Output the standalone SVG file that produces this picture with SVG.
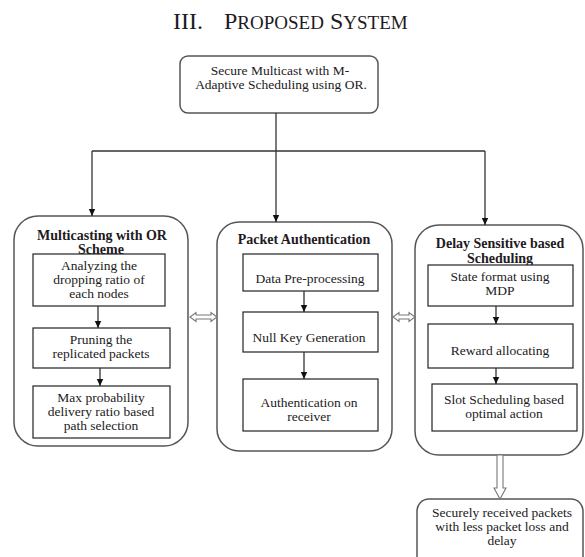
<svg xmlns="http://www.w3.org/2000/svg" width="585" height="557" viewBox="0 0 585 557" font-family="'Liberation Serif', 'Times New Roman', serif">
<defs>
<marker id="ah" markerWidth="8" markerHeight="8" refX="7" refY="4" orient="auto" markerUnits="userSpaceOnUse">
<path d="M0,0.8 L7,4 L0,7.2 z" fill="#111"/>
</marker>
<style>
text{font-family:'Liberation Serif','Times New Roman',serif;fill:#221a22;}
.t{font-size:13.5px;text-anchor:middle;}
.h{font-size:14px;font-weight:bold;text-anchor:middle;}
.cont{fill:none;stroke:#555;stroke-width:1.5;}
.box{fill:#fff;stroke:#222;stroke-width:1.2;}
.ln{fill:none;stroke:#333;stroke-width:1.3;}
.dbl{fill:#fff;stroke:#777;stroke-width:1.1;}
</style>
</defs>
<rect width="585" height="557" fill="#fff"/>
<g id="title">
<text x="173" y="29" font-size="24">III.</text>
<text x="224" y="29" font-size="24">P<tspan font-size="19">ROPOSED</tspan> S<tspan font-size="19">YSTEM</tspan></text>
</g>
<g id="top">
<rect x="180" y="56" width="198" height="57" rx="8" class="cont"/>
<text class="t" x="280" y="75">Secure Multicast with M-</text>
<text class="t" x="281" y="89">Adaptive Scheduling using OR.</text>
</g>
<g id="c1">
<rect x="14" y="216" width="174" height="230" rx="24" class="cont"/>
<text class="h" x="102" y="240">Multicasting with OR</text>
<text class="h" x="101" y="254">Scheme</text>
<g id="c1b1"><rect x="33" y="254" width="132" height="52" class="box"/>
<text class="t" x="99" y="270">Analyzing the</text>
<text class="t" x="99" y="284">dropping ratio of</text>
<text class="t" x="99" y="298">each nodes</text></g>
<g id="c1b2"><rect x="33" y="328" width="137" height="40" class="box"/>
<text class="t" x="101" y="344">Pruning the</text>
<text class="t" x="101" y="358">replicated packets</text></g>
<g id="c1b3"><rect x="33" y="386" width="137" height="52" class="box"/>
<text class="t" x="101" y="402">Max probability</text>
<text class="t" x="101" y="416">delivery ratio based</text>
<text class="t" x="101" y="430">path selection</text></g>
</g>
<g id="c2">
<rect x="217" y="222" width="175" height="229" rx="22" class="cont"/>
<text class="h" x="304" y="244">Packet Authentication</text>
<g id="c2b1"><rect x="243" y="254" width="135" height="37" class="box"/>
<text class="t" x="310" y="283">Data Pre-processing</text></g>
<g id="c2b2"><rect x="243" y="312" width="135" height="40" class="box"/>
<text class="t" x="309" y="342">Null Key Generation</text></g>
<g id="c2b3"><rect x="243" y="379" width="135" height="52" class="box"/>
<text class="t" x="309" y="407">Authentication on</text>
<text class="t" x="309" y="421">receiver</text></g>
</g>
<g id="c3">
<rect x="415" y="225" width="168" height="230" rx="24" class="cont"/>
<text class="h" x="500" y="248">Delay Sensitive based</text>
<text class="h" x="500" y="263">Scheduling</text>
<g id="c3b1"><rect x="428" y="265" width="145" height="41" class="box"/>
<text class="t" x="500" y="281">State format using</text>
<text class="t" x="500" y="295">MDP</text></g>
<g id="c3b2"><rect x="428" y="324" width="145" height="44" class="box"/>
<text class="t" x="500" y="355">Reward allocating</text></g>
<g id="c3b3"><rect x="432" y="384" width="145" height="47" class="box"/>
<text class="t" x="504" y="404">Slot Scheduling based</text>
<text class="t" x="504" y="418">optimal action</text></g>
</g>
<g id="out">
<rect x="417" y="499" width="166" height="80" rx="12" class="cont"/>
<text class="t" x="502" y="517">Securely received packets</text>
<text class="t" x="502" y="531">with less packet loss and</text>
<text class="t" x="502" y="545">delay</text>
</g>
<g id="connectors">
<path class="ln" d="M276,113 V151"/>
<path class="ln" d="M92,151 H485"/>
<path class="ln" d="M92,151 V216" marker-end="url(#ah)"/>
<path class="ln" d="M276,151 V222" marker-end="url(#ah)"/>
<path class="ln" d="M485,151 V225" marker-end="url(#ah)"/>
<path class="ln" d="M98,306 V328" marker-end="url(#ah)"/>
<path class="ln" d="M100,368 V386" marker-end="url(#ah)"/>
<path class="ln" d="M304,291 V312" marker-end="url(#ah)"/>
<path class="ln" d="M304,352 V379" marker-end="url(#ah)"/>
<path class="ln" d="M496,306 V324" marker-end="url(#ah)"/>
<path class="ln" d="M496,368 V384" marker-end="url(#ah)"/>
<polygon class="dbl" points="190,317 196,312.5 196,315 211,315 211,312.5 217,317 211,321.5 211,319 196,319 196,321.5"/>
<polygon class="dbl" points="393,317 399,312.5 399,315 409,315 409,312.5 415,317 409,321.5 409,319 399,319 399,321.5"/>
<polygon class="dbl" points="497,455 503,455 503,488 506,488 500,499 494,488 497,488"/>
</g>
</svg>
